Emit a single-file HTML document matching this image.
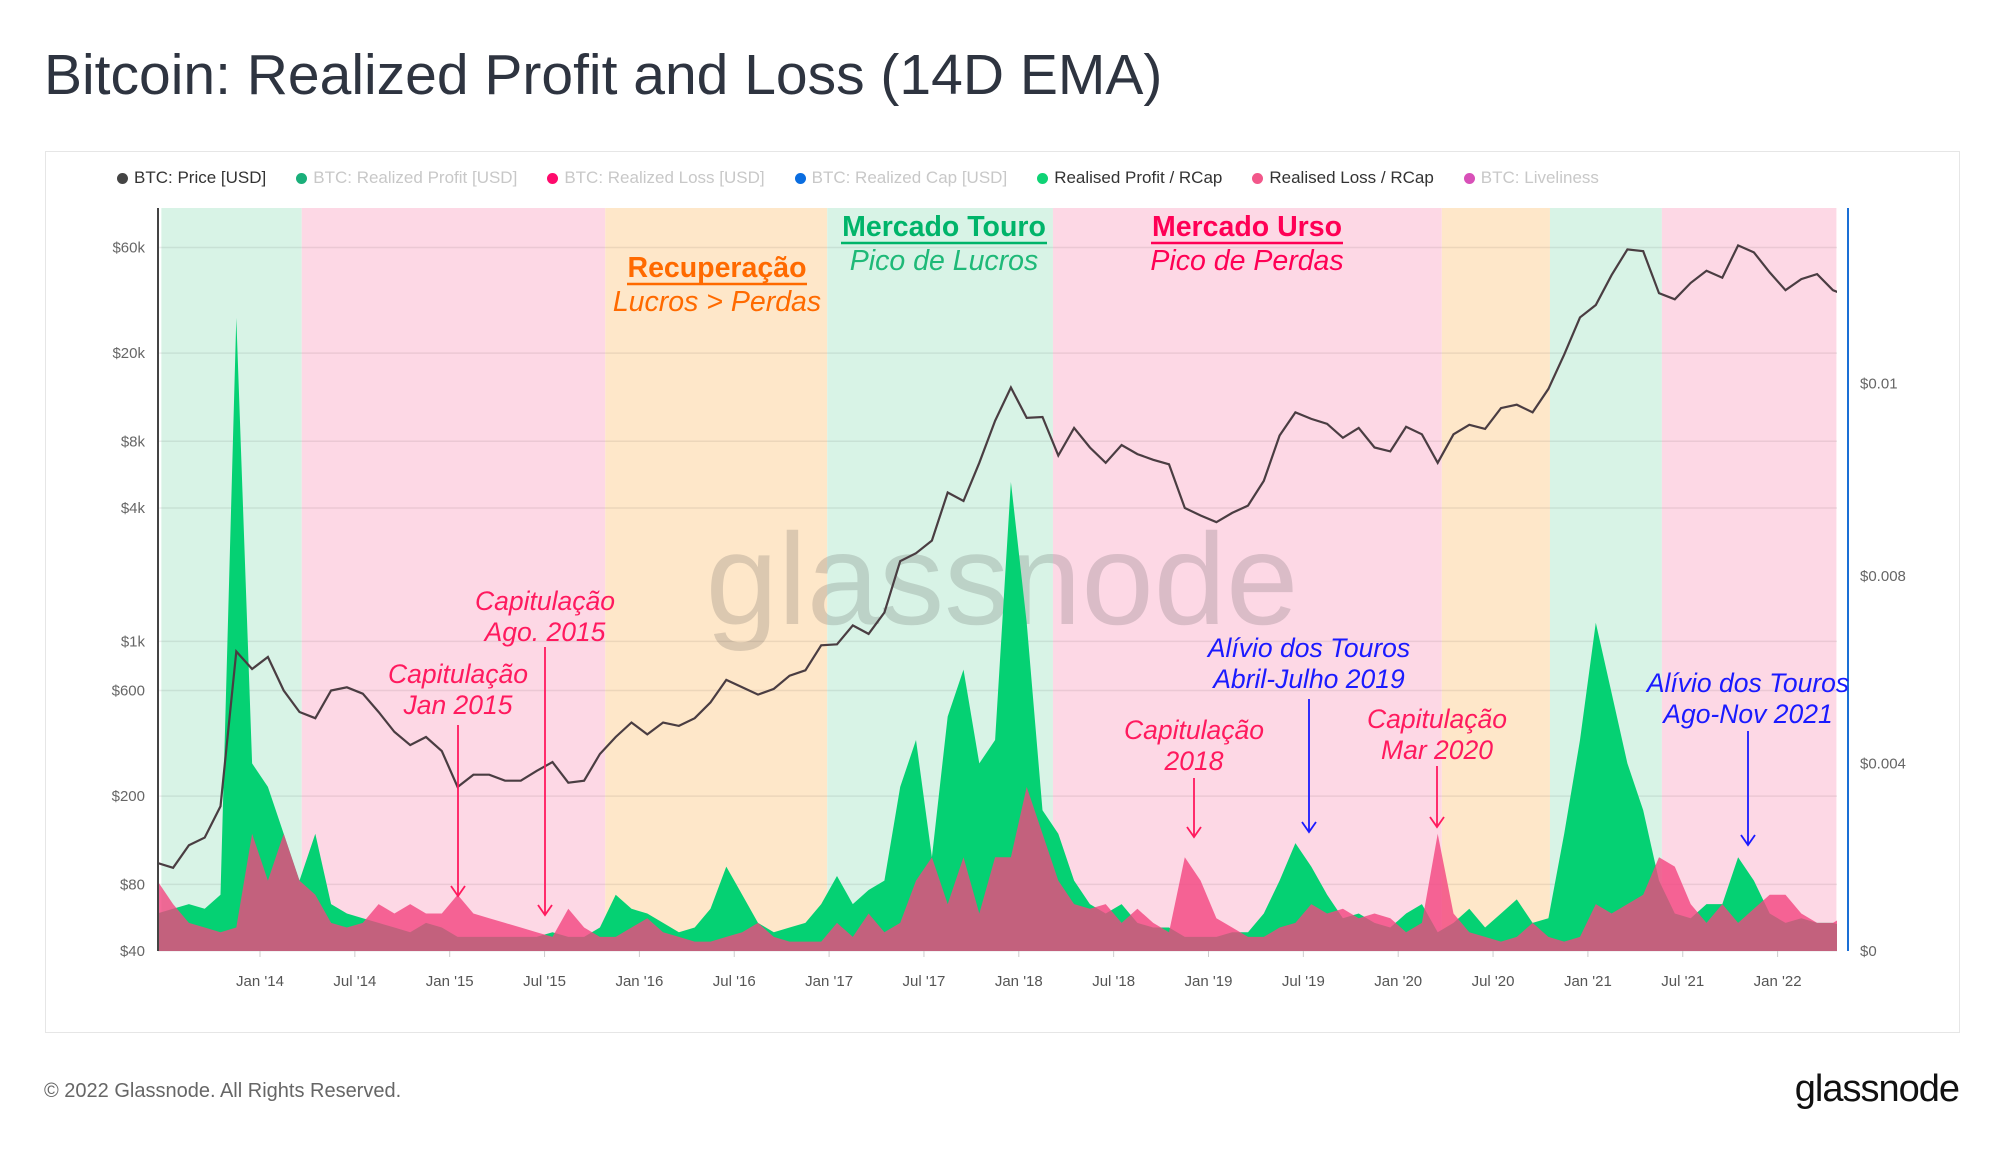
<!DOCTYPE html>
<html><head><meta charset="utf-8"><style>
body{margin:0;width:2000px;height:1152px;background:#fff;font-family:"Liberation Sans",sans-serif;overflow:hidden;position:relative}
#title{position:absolute;left:44px;top:42px;font-size:57px;color:#2e3440;margin:0;font-weight:400}
#box{position:absolute;left:45px;top:151px;width:1913px;height:880px;border:1px solid #e6e6e6}
#legend{position:absolute;left:117px;top:168px;display:flex;gap:30px;font-size:17px;color:#333}
#legend span.i{display:flex;align-items:center;gap:6px}
#legend b{display:inline-block;width:11px;height:11px;border-radius:50%}
.off{color:#c8c8c8}
#footer{position:absolute;left:44px;top:1080px;font-size:20px;color:#666}
#logo{position:absolute;right:41px;top:1068px;font-size:38px;color:#111;letter-spacing:-1px}
</style></head><body>
<h1 id="title">Bitcoin: Realized Profit and Loss (14D EMA)</h1>
<div id="box"></div>
<div id="legend">
<span class="i"><b style="background:#444"></b>BTC: Price [USD]</span>
<span class="i off"><b style="background:#1aaf7a"></b>BTC: Realized Profit [USD]</span>
<span class="i off"><b style="background:#ff0a6c"></b>BTC: Realized Loss [USD]</span>
<span class="i off"><b style="background:#0a6de0"></b>BTC: Realized Cap [USD]</span>
<span class="i"><b style="background:#0fd375"></b>Realised Profit / RCap</span>
<span class="i"><b style="background:#f2578a"></b>Realised Loss / RCap</span>
<span class="i off"><b style="background:#d850b8"></b>BTC: Liveliness</span>
</div>
<svg id="chart" width="2000" height="1152" style="position:absolute;left:0;top:0"></svg>
<div id="footer">© 2022 Glassnode. All Rights Reserved.</div>
<div id="logo">glassnode</div>
<script>
const priceUSD=[100,95,120,130,180,900,750,
850,600,480,450,600,620,580,480,390,340,370,320,
220,250,250,235,235,260,285,230,235,310,370,430,
380,430,415,450,530,670,620,575,610,700,740,960,
970,1180,1080,1350,2300,2500,2850,4700,4300,6400,9900,14000,
10200,10300,6900,9200,7500,6400,7700,7000,6600,6300,4000,3700,
3450,3800,4100,5300,8500,10800,10100,9600,8300,9200,7500,7200,
9300,8600,6400,8600,9500,9100,11300,11700,10800,13800,19700,29000,
33000,45000,58800,57700,37300,35000,41500,47100,43800,61300,57000,46300,
38500,43200,45500,38500,36000];
const profitRCap=[0.8,0.9,1.0,0.9,1.2,13.5,4.0,
3.5,2.5,1.5,2.5,1.0,0.8,0.7,0.6,0.5,0.4,0.6,0.5,
0.3,0.3,0.3,0.3,0.3,0.3,0.4,0.3,0.3,0.5,1.2,0.9,
0.8,0.6,0.4,0.5,0.9,1.8,1.2,0.6,0.4,0.5,0.6,1.0,
1.6,1.0,1.3,1.5,3.5,4.5,2.0,5.0,6.0,4.0,4.5,10.0,
7.0,3.0,2.5,1.5,1.0,0.8,1.0,0.6,0.5,0.5,0.3,0.3,
0.3,0.4,0.4,0.8,1.5,2.3,1.8,1.2,0.7,0.8,0.6,0.5,
0.8,1.0,0.4,0.6,0.9,0.5,0.8,1.1,0.6,0.7,2.5,4.5,
7.0,5.5,4.0,3.0,1.5,0.8,0.7,1.0,1.0,2.0,1.5,0.8,
0.6,0.7,0.6,0.6,0.5];
const lossRCap=[1.5,1.0,0.6,0.5,0.4,0.5,2.5,
1.5,2.5,1.5,1.2,0.6,0.5,0.6,1.0,0.8,1.0,0.8,0.8,
1.2,0.8,0.7,0.6,0.5,0.4,0.3,0.9,0.5,0.3,0.3,0.5,
0.7,0.4,0.3,0.2,0.2,0.3,0.4,0.6,0.3,0.2,0.2,0.2,
0.6,0.3,0.8,0.4,0.6,1.5,2.0,1.0,2.0,0.8,2.0,2.0,
3.5,2.5,1.5,1.0,0.9,1.0,0.6,0.9,0.6,0.4,2.0,1.5,
0.7,0.5,0.3,0.3,0.5,0.6,1.0,0.8,0.9,0.7,0.8,0.7,
0.4,0.6,2.5,0.8,0.4,0.3,0.2,0.3,0.6,0.3,0.2,0.3,
1.0,0.8,1.0,1.2,2.0,1.8,1.0,0.6,1.0,0.6,0.9,1.2,
1.2,0.8,0.6,0.6,0.8];
const regionStarts=[2013.48,2014.22,2015.82,2016.99,2018.18,2020.23,2020.80,2021.39];
const regionEnds=[2014.22,2015.82,2016.99,2018.18,2020.23,2020.80,2021.39,2022.31];
const regionTypes=['bull','bear','recovery','bull','bear','recovery','bull','bear'];
const leftTicks=[60000,20000,8000,4000,1000,600,200,80,40];
const leftTickLabels=['$60k','$20k','$8k','$4k','$1k','$600','$200','$80','$40'];
const rightTicks=[0,0.004,0.008,0.0121];
const rightTickLabels=['$0','$0.004','$0.008','$0.01'];
const xTickYears=[2014,2014.5,2015,2015.5,2016,2016.5,2017,2017.5,2018,2018.5,2019,2019.5,2020,2020.5,2021,2021.5,2022];
const xTickLabels=["Jan '14","Jul '14","Jan '15","Jul '15","Jan '16","Jul '16","Jan '17","Jul '17","Jan '18","Jul '18","Jan '19","Jul '19","Jan '20","Jul '20","Jan '21","Jul '21","Jan '22"];

const L=158,R=1837,T=208,B=951;
const X=t=>260+(t-2014)*189.7;
const YL=v=>B-96.2*Math.log(v/40);
const YR=v=>B-v*46900;
const tOf=i=>2013+(5+i)/12+1/24;
const svg=document.getElementById('chart');
const NS='http://www.w3.org/2000/svg';
function mk(tag,attrs,parent){const e=document.createElementNS(NS,tag);for(const k in attrs)e.setAttribute(k,attrs[k]);(parent||svg).appendChild(e);return e;}
const defs=mk('defs',{});
const cp=mk('clipPath',{id:'clip'},defs);mk('rect',{x:L,y:T,width:R-L,height:B-T},cp);
const colors={bull:'#d8f3e6',bear:'#fdd8e5',recovery:'#fee7c9'};
regionStarts.forEach((s,i)=>{const r=mk('rect',{x:Math.max(L,X(s)),y:T,width:X(regionEnds[i])-Math.max(L,X(s)),height:B-T,fill:colors[regionTypes[i]]});

});
leftTicks.forEach((v,i)=>{const y=YL(v);mk('line',{x1:L,x2:R,y1:y,y2:y,stroke:'rgba(0,0,0,0.07)','stroke-width':1.5});
const t=mk('text',{x:145,y:y+5,'text-anchor':'end','font-size':15,fill:'#666'});t.textContent=leftTickLabels[i];

});
rightTicks.forEach((v,i)=>{const t=mk('text',{x:1860,y:YR(v)+5,'font-size':15,fill:'#666'});t.textContent=rightTickLabels[i];

});
xTickYears.forEach((yv,i)=>{const x=X(yv);mk('line',{x1:x,x2:x,y1:B,y2:B+6,stroke:'#ccc'});
const t=mk('text',{x:x,y:986,'text-anchor':'middle','font-size':15,fill:'#555'});t.textContent=xTickLabels[i];

});
const wm=mk('text',{x:1002,y:624,'text-anchor':'middle','font-size':130,fill:'rgba(70,70,70,0.19)'});wm.textContent='glassnode';


const g=mk('g',{'clip-path':'url(#clip)'});
function area(arr,fill,op,name){let d='M'+X(tOf(0))+','+B;arr.forEach((v,i)=>{d+='L'+X(tOf(i)).toFixed(1)+','+YR(v/1000).toFixed(1);});d+='L'+X(tOf(arr.length-1))+','+B+'Z';
const p=mk('path',{d:d,fill:fill,'fill-opacity':op},g);

}
area(profitRCap,'#05d173',1,'profit-rcap-area');
area(lossRCap,'#f2457f',0.8,'loss-rcap-area');
let d='';priceUSD.forEach((v,i)=>{d+=(i?'L':'M')+X(tOf(i)).toFixed(1)+','+YL(v).toFixed(1);});
const pl=mk('path',{d:d,fill:'none',stroke:'#4a3d42','stroke-width':2.2},g);


mk('line',{x1:L,x2:L,y1:T,y2:B,stroke:'#444','stroke-width':2});
mk('line',{x1:1848,x2:1848,y1:T,y2:B,stroke:'#1a6fd6','stroke-width':2});
function txt(x,y,s,fill,opts,name){const t=mk('text',Object.assign({x:x,y:y,'text-anchor':'middle','font-size':28.5,fill:fill},opts||{}));t.textContent=s;

return t;}
function under(x,y,w,c){mk('line',{x1:x-w/2,x2:x+w/2,y1:y,y2:y,stroke:c,'stroke-width':2.5});}
txt(717,277,'Recuperação','#ff6a00',{'font-weight':'bold'},'recovery-label');under(717,284,180,'#ff6a00');
txt(717,311,'Lucros > Perdas','#ff6a00',{'font-style':'italic'},'recovery-sub');
txt(944,236,'Mercado Touro','#00b46a',{'font-weight':'bold'},'bull-label');under(944,243,206,'#00b46a');
txt(944,270,'Pico de Lucros','#1fb978',{'font-style':'italic'},'bull-sub');
txt(1247,236,'Mercado Urso','#ff0055',{'font-weight':'bold'},'bear-label');under(1247,243,192,'#ff0055');
txt(1247,270,'Pico de Perdas','#ff0055',{'font-style':'italic'},'bear-sub');
const pink='#ff1a5e',blue='#1a1aff';
function ann(x,y1,s1,s2,c,ay1,ay2,name){txt(x,y1,s1,c,{'font-size':26.5,'font-style':'italic'},name);txt(x,y1+31,s2,c,{'font-size':26.5,'font-style':'italic'},name+'-2');
mk('line',{x1:x,x2:x,y1:ay1,y2:ay2,stroke:c,'stroke-width':1.8});mk('path',{d:`M${x-7},${ay2-10}L${x},${ay2}L${x+7},${ay2-10}`,fill:'none',stroke:c,'stroke-width':1.8});}
ann(545,610,'Capitulação','Ago. 2015',pink,647,915,'annot-ago-2015');
ann(458,683,'Capitulação','Jan 2015',pink,725,896,'annot-jan-2015');
ann(1194,739,'Capitulação','2018',pink,778,837,'annot-2018');
ann(1309,657,'Alívio dos Touros','Abril-Julho 2019',blue,699,832,'annot-2019');
ann(1437,728,'Capitulação','Mar 2020',pink,766,827,'annot-mar-2020');
ann(1748,692,'Alívio dos Touros','Ago-Nov 2021',blue,731,845,'annot-2021');
</script>
</body></html>
